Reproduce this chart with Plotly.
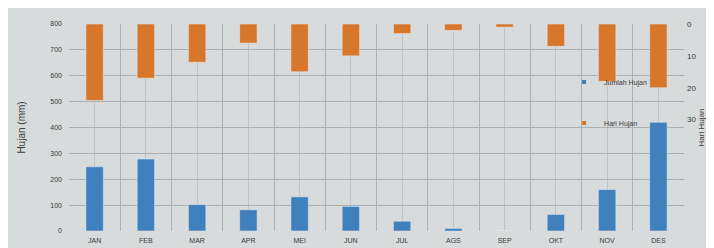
import plotly.graph_objects as go

months = ["JAN", "FEB", "MAR", "APR", "MEI", "JUN", "JUL", "AGS", "SEP", "OKT", "NOV", "DES"]
jumlah_hujan = [248, 278, 102, 82, 132, 95, 38, 10, 0, 64, 160, 420]
hari_hujan = [24, 17, 12, 6, 15, 10, 3, 2, 1, 7, 18, 20]
left_ticks = [0, 100, 200, 300, 400, 500, 600, 700, 800]
right_ticks = [0, 10, 20, 30]

xpos = list(range(len(months)))
bg = "#d8dbdb"
grid = "#aab0b2"
txt = "#3a3a3a"
blue = "#3f80bd"
orange = "#d7772b"

fig = go.Figure()
fig.add_trace(go.Bar(x=xpos, y=jumlah_hujan, name="Jumlah Hujan", marker_color=blue,
                     width=0.34, legendgroup="a", showlegend=False, yaxis="y"))
fig.add_trace(go.Bar(x=xpos, y=hari_hujan, name="Hari Hujan", marker_color=orange,
                     width=0.34, legendgroup="b", showlegend=False, yaxis="y2"))
# small square legend keys
fig.add_trace(go.Scatter(x=[None], y=[None], mode="markers", name="Jumlah Hujan",
                         marker=dict(symbol="square", size=4, color=blue), legendgroup="a"))
fig.add_trace(go.Scatter(x=[None], y=[None], mode="markers", name="Hari Hujan",
                         marker=dict(symbol="square", size=4, color=orange), legendgroup="b"))

fig.update_layout(
    width=714, height=248,
    margin=dict(l=61, r=38, t=16, b=20),
    paper_bgcolor=bg, plot_bgcolor=bg,
    barmode="overlay",
    font=dict(family="Liberation Sans, Arial, sans-serif", size=8, color=txt),
    xaxis=dict(
        range=[-0.5, 11.5], tickmode="array", tickvals=xpos, ticktext=months,
        showgrid=True, gridcolor="#c0c4c5", gridwidth=1, zeroline=False,
        minor=dict(tickmode="array", tickvals=[i - 0.5 for i in range(13)],
                   showgrid=True, gridcolor=grid, gridwidth=1),
        showline=False, ticks="", tickfont=dict(size=7), ticklabelstandoff=4,
    ),
    yaxis=dict(
        range=[0, 800], tickmode="array", tickvals=left_ticks,
        showgrid=True, gridcolor=grid, gridwidth=1, zeroline=False,
        title=dict(text="Hujan (mm)", font=dict(size=10), standoff=22),
        tickfont=dict(size=7), ticks="", ticklabelstandoff=6,
    ),
    yaxis2=dict(
        overlaying="y", side="right", range=[65, 0], tickmode="array",
        tickvals=right_ticks, showgrid=False, zeroline=False,
        tickfont=dict(size=8), ticks="", ticklabelstandoff=2,
        title=dict(text="Hari Hujan", font=dict(size=8), standoff=2),
        automargin=False,
    ),
    legend=dict(x=0.805, y=0.79, xanchor="left", yanchor="top",
                bgcolor="rgba(0,0,0,0)", font=dict(size=7),
                tracegroupgap=22, itemwidth=30),
    showlegend=True,
)

fig.write_html("out.html")
